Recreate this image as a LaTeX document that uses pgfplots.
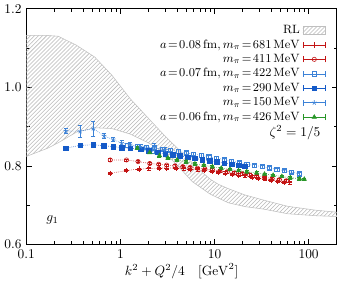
\documentclass[border=0pt]{standalone}
\usepackage{pgfplots}
\pgfplotsset{compat=1.18}
\usepackage{pgfplotstable}
\usetikzlibrary{patterns}
\definecolor{cred}{RGB}{195,20,20}
\definecolor{cblue}{RGB}{20,90,200}
\definecolor{lblue}{RGB}{60,130,215}
\definecolor{cgreen}{RGB}{40,150,40}

\pgfplotstableread{
x y e
0.78 0.781 0.003
1.16 0.788 0.003
1.57 0.792 0.003
1.99 0.793 0.003
2.6 0.794 0.003
3.1 0.795 0.003
3.9 0.794 0.003
4.7 0.793 0.003
5.5 0.792 0.003
6.6 0.790 0.003
7.8 0.788 0.003
9.4 0.786 0.003
11 0.784 0.003
13 0.782 0.003
15.5 0.779 0.003
18 0.777 0.003
21 0.775 0.003
25 0.772 0.003
29 0.769 0.003
34 0.767 0.003
40 0.764 0.003
47 0.761 0.003
55 0.759 0.003
63 0.757 0.003
}\tabA

\pgfplotstableread{
x y e
0.78 0.815 0.004
1.16 0.815 0.003
1.54 0.811 0.003
2.05 0.806 0.003
2.55 0.804 0.003
3.1 0.802 0.003
3.8 0.800 0.003
4.6 0.798 0.003
5.5 0.796 0.003
6.6 0.794 0.003
7.9 0.792 0.003
9.5 0.790 0.003
11.4 0.787 0.003
13.7 0.785 0.003
16.4 0.782 0.003
19.7 0.780 0.003
23.6 0.777 0.003
28 0.774 0.003
34 0.771 0.003
41 0.768 0.003
49 0.765 0.003
58 0.762 0.003
}\tabB

\pgfplotstableread{
x y e
1.2 0.852 0.005
1.5 0.850 0.004
1.9 0.848 0.004
2.3 0.846 0.004
2.8 0.843 0.004
3.4 0.840 0.004
4.1 0.837 0.004
5.0 0.833 0.004
6.0 0.830 0.004
7.2 0.827 0.004
8.7 0.823 0.004
10.5 0.820 0.004
12.6 0.816 0.004
15.2 0.812 0.004
18.3 0.808 0.004
22 0.804 0.004
26.5 0.801 0.004
32 0.798 0.004
38 0.795 0.004
46 0.791 0.004
55 0.788 0.004
66 0.784 0.004
80 0.780 0.004
}\tabC

\pgfplotstableread{
x y e
0.263 0.845 0.002
0.373 0.852 0.002
0.515 0.854 0.002
0.67 0.851 0.002
0.84 0.849 0.002
1.03 0.846 0.002
1.27 0.845 0.002
1.64 0.842 0.002
2.0 0.838 0.002
2.5 0.834 0.002
3.0 0.831 0.002
3.6 0.828 0.002
4.3 0.825 0.002
5.2 0.822 0.002
6.2 0.819 0.002
7.4 0.816 0.002
8.9 0.813 0.002
10.6 0.810 0.002
12.7 0.807 0.002
15.2 0.804 0.002
18.2 0.801 0.002
21 0.799 0.002
}\tabD

\pgfplotstableread{
x y e
0.263 0.889 0.007
0.373 0.888 0.016
0.515 0.895 0.019
0.67 0.876 0.006
0.84 0.867 0.005
1.03 0.858 0.006
1.27 0.854 0.006
1.64 0.849 0.006
2.3 0.845 0.012
3.0 0.840 0.008
}\tabE

\pgfplotstableread{
x y e
1.51 0.845 0.004
2.05 0.834 0.003
2.6 0.826 0.003
3.2 0.820 0.003
4.0 0.815 0.003
5.0 0.810 0.003
6.2 0.805 0.003
7.7 0.801 0.003
9.5 0.798 0.003
11.8 0.794 0.003
14.6 0.791 0.003
18 0.788 0.003
22 0.785 0.003
28 0.782 0.003
34 0.779 0.003
42 0.776 0.003
52 0.773 0.003
64 0.770 0.003
80 0.767 0.003
90 0.766 0.003
}\tabF

\begin{document}
\begin{tikzpicture}
\begin{axis}[
  scale only axis,
  width=232pt, height=176pt,
  xmode=log,
  xmin=0.1, xmax=200,
  ymin=0.6, ymax=1.2,
  xtick={0.1,1,10,100},
  xticklabels={0.1,1,10,100},
  ytick={0.6,0.8,1.0,1.2},
  minor ytick={0.7,0.9,1.1},
  yticklabel style={/pgf/number format/fixed,/pgf/number format/fixed zerofill,/pgf/number format/precision=1},
  tick align=inside,
  xtick pos=both, ytick pos=both,
  major tick length=4pt, minor tick length=2.5pt,
  tick style={black, line width=0.5pt},
  axis line style={line width=0.8pt},
  xlabel={$k^2+Q^2/4\quad[\mathrm{GeV}^2]$},
  xlabel style={yshift=3pt},
  legend style={draw=none, fill=none, at={(0.97,0.948)}, anchor=north east, font=\small, row sep=-0.9pt, inner sep=1pt},
  legend cell align=right,
  legend plot pos=right,
  error bars/error bar style={solid, line width=0.5pt},
  error bars/error mark options={rotate=90, mark size=1.5pt, solid},
  every axis plot/.append style={line width=0.45pt},
  eb legend/.style={legend image code/.code={
     \draw[solid] (0cm,-2.2pt)--(0cm,2.2pt) (0.6cm,-2.2pt)--(0.6cm,2.2pt) (0cm,0cm)--(0.6cm,0cm);
     \draw[solid] plot[only marks] coordinates {(0.3cm,0cm)};}},
]
\addplot[pattern=north east lines, pattern color=gray!55, draw=gray!50, line width=0.4pt, area legend] coordinates {
(0.1,1.132) (0.169,1.132) (0.219,1.130) (0.342,1.107) (0.534,1.077) (0.811,1.031) (1.27,0.971) (1.97,0.922) (3.0,0.875) (4.68,0.830) (5.8,0.808) (7.2,0.786) (9.0,0.766) (11,0.753) (14,0.742) (21,0.726) (33,0.713) (60,0.697) (120,0.687) (200,0.682)
(200,0.671) (120,0.673) (60,0.678) (33,0.690) (21.3,0.696) (14,0.706) (9,0.728) (5.8,0.760) (3.9,0.805) (3.0,0.832) (1.97,0.859) (1.27,0.881) (0.811,0.895) (0.534,0.897) (0.342,0.886) (0.219,0.859) (0.169,0.845) (0.1,0.824)
} -- cycle;
\addlegendentry{RL}

\addplot[cred, densely dotted, mark=+, mark size=2pt, mark options={solid}, eb legend,
  error bars/.cd, y dir=both, y explicit] table[x=x, y=y, y error=e] {\tabA};
\addlegendentry{$a\!=\!0.08\,\mathrm{fm}, m_\pi\!=\!681\,\mathrm{MeV}$}
\addplot[cred, densely dotted, mark=o, mark size=1.6pt, mark options={solid}, eb legend,
  error bars/.cd, y dir=both, y explicit] table[x=x, y=y, y error=e] {\tabB};
\addlegendentry{$m_\pi\!=\!411\,\mathrm{MeV}$}
\addplot[lblue, densely dotted, mark=square, mark size=1.6pt, mark options={solid}, eb legend,
  error bars/.cd, y dir=both, y explicit] table[x=x, y=y, y error=e] {\tabC};
\addlegendentry{$a\!=\!0.07\,\mathrm{fm}, m_\pi\!=\!422\,\mathrm{MeV}$}
\addplot[cblue, densely dotted, mark=square*, mark size=1.7pt, mark options={solid}, eb legend,
  error bars/.cd, y dir=both, y explicit] table[x=x, y=y, y error=e] {\tabD};
\addlegendentry{$m_\pi\!=\!290\,\mathrm{MeV}$}
\addplot[lblue, densely dotted, mark=star, mark size=1.8pt, mark options={solid}, eb legend,
  error bars/.cd, y dir=both, y explicit] table[x=x, y=y, y error=e] {\tabE};
\addlegendentry{$m_\pi\!=\!150\,\mathrm{MeV}$}
\addplot[cgreen, densely dotted, mark=triangle*, mark size=1.8pt, mark options={solid}, eb legend,
  error bars/.cd, y dir=both, y explicit] table[x=x, y=y, y error=e] {\tabF};
\addlegendentry{$a\!=\!0.06\,\mathrm{fm}, m_\pi\!=\!426\,\mathrm{MeV}$}

\node[anchor=east] at (axis cs:150,0.885) {$\zeta^2=1/5$};
\node at (axis cs:0.19,0.663) {$g_1$};
\end{axis}
\path (current axis.south east) ++(15pt,0pt);
\end{tikzpicture}
\end{document}
